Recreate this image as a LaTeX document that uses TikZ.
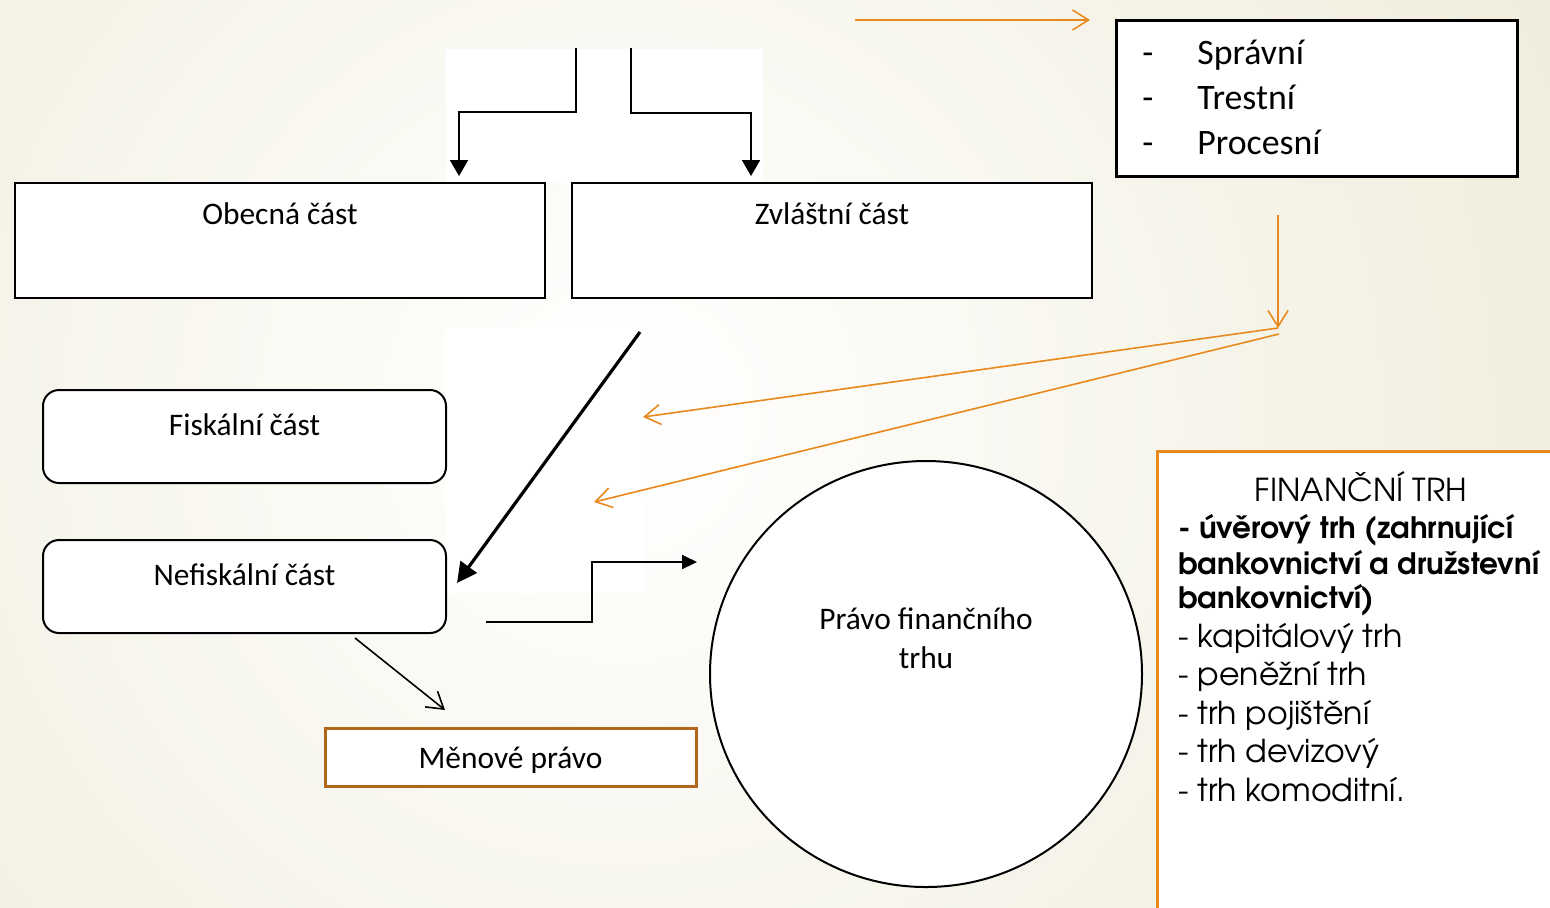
\documentclass[tikz,border=0pt]{standalone}
\usepackage{fontspec}
\setmainfont{Carlito}
\newfontfamily\gothic{TeX Gyre Adventor}
\usetikzlibrary{arrows.meta,shapes.geometric}
\definecolor{orng}{HTML}{E8891E}
\definecolor{brwn}{HTML}{B3661A}
\definecolor{bgb}{HTML}{ECE8D2}
\begin{document}
\begin{tikzpicture}[x=0.5pt,y=-0.5pt,
  sqbox/.style={draw=black, line width=1pt, fill=white, rectangle, inner sep=0pt},
  rbox/.style={sqbox, rounded corners=8pt},
  lbl/.style={anchor=base, inner sep=0pt, font=\fontsize{15.7}{19}\selectfont},
  lst/.style={anchor=base west, inner sep=0pt, font=\fontsize{17.9}{22}\selectfont},
  gth/.style={anchor=base west, inner sep=0pt, font=\gothic\fontsize{15.8}{19}\selectfont},
  gthb/.style={gth, font=\gothic\bfseries\fontsize{14.75}{19}\selectfont},
  blk/.style={draw=black, line width=1pt, -{Triangle[length=8pt,width=9pt]}},
  oarr/.style={draw=orng, line width=0.8pt, -{Straight Barb[length=8pt,width=10pt]}},
  thinarr/.style={draw=black, line width=0.8pt, -{Straight Barb[length=8pt,width=10pt]}}
]
\useasboundingbox (0,0) rectangle (1550,907);
\clip (0,0) rectangle (1550,907);
% background
\shade[inner color=white, outer color=bgb] (620,420) circle (1300);
\fill[white] (446,49) rectangle (763,183);
\fill[white] (445,327) rectangle (645,593);

% top right list box
\node[sqbox, line width=1.5pt, minimum width=200.5pt, minimum height=78pt] (lawbox) at (1316.5,98) {};
\node[lst] (d1) at (1142,64) {-};
\node[lst] (t1) at (1197,64) {Správní};
\node[lst] (d2) at (1142,109) {-};
\node[lst] (t2) at (1197,109) {Trestní};
\node[lst] (d3) at (1142,154) {-};
\node[lst] (t3) at (1197,154) {Procesní};

% obecna / zvlastni
\node[sqbox, minimum width=265pt, minimum height=57.5pt] (obecna) at (280,240.5) {};
\node[lbl] (obecnat) at (280,224) {Obecná část};
\node[sqbox, minimum width=260pt, minimum height=57.5pt] (zvl) at (832,240.5) {};
\node[lbl] (zvlt) at (832,224) {Zvláštní část};

% fiskalni / nefiskalni
\node[rbox, minimum width=201.5pt, minimum height=46.5pt] (fisk) at (244.5,436.5) {};
\node[lbl] (fiskt) at (244.5,435) {Fiskální část};
\node[rbox, minimum width=201.5pt, minimum height=46.5pt] (nefisk) at (244.5,586.5) {};
\node[lbl] (nefiskt) at (244.5,585) {Nefiskální část};

% menove pravo
\node[sqbox, draw=brwn, line width=1.5pt, minimum width=185.5pt, minimum height=29pt] (menove) at (510.5,757) {};
\node[lbl] (menovet) at (510.5,768) {Měnové právo};

% circle
\node[draw=black, line width=1pt, fill=white, ellipse, inner sep=0pt, minimum width=216pt, minimum height=213pt] (kruh) at (926,674) {};
\node[lbl] (kruht1) at (926,629) {Právo finančního};
\node[lbl] (kruht2) at (926,668) {trhu};

% financni trh box
\node[sqbox, draw=orng, line width=1.5pt, minimum width=221.5pt, minimum height=234.5pt] (trh) at (1378.5,685.5) {};
\node[anchor=base, inner sep=0pt, font=\gothic\fontsize{15.8}{19}\selectfont] (trh0) at (1361,501) {FINANČNÍ TRH};
\node[gthb] (trh1) at (1178,538) {- úvěrový trh (zahrnující};
\node[gthb] (trh2) at (1178,574) {bankovnictví a družstevní};
\node[gthb] (trh3) at (1178,608) {bankovnictví)};
\node[gth] (trh4) at (1178,647) {- kapitálový trh};
\node[gth] (trh5) at (1178,685) {- peněžní trh};
\node[gth] (trh6) at (1178,724) {- trh pojištění};
\node[gth] (trh7) at (1178,762) {- trh devizový};
\node[gth] (trh8) at (1178,801) {- trh komoditní.};

% connector coordinates
\coordinate (oa1) at (855,20);
\coordinate (oa2) at (1090,20);
\coordinate (ob1) at (1278,215);
\coordinate (ob2) at (1278,328);
\coordinate (ob3) at (1279,334);
\coordinate (oc1) at (643,417);
\coordinate (oc2) at (594,502);
\coordinate (e1a) at (576,48);
\coordinate (e1b) at (459,176);
\coordinate (e2a) at (631,48);
\coordinate (e2b) at (751,176);
\coordinate (dg1) at (640,332);
\coordinate (dg2) at (457,583);
\coordinate (s1) at (486,622);
\coordinate (s2) at (697,562);
\coordinate (t1a) at (355,638);
\coordinate (t1b) at (445,710);

% orange arrows
\draw[oarr] (oa1) -- (oa2);
\draw[oarr] (ob1) -- (ob2);
\draw[oarr] (ob2) -- (oc1);
\draw[oarr] (ob3) -- (oc2);

% black connectors
\draw[blk] (e1a) -- (576,112) -- (459,112) -- (e1b);
\draw[blk] (e2a) -- (631,113) -- (751,113) -- (e2b);
\draw[draw=black, line width=1.6pt, -{Triangle[length=10pt,width=10pt]}] (dg1) -- (dg2);
\draw[draw=black, line width=1pt, -{Triangle[length=7.5pt,width=7pt]}] (s1) -- (592,622) -- (592,562) -- (s2);
\draw[thinarr] (t1a) -- (t1b);
\end{tikzpicture}
\end{document}
